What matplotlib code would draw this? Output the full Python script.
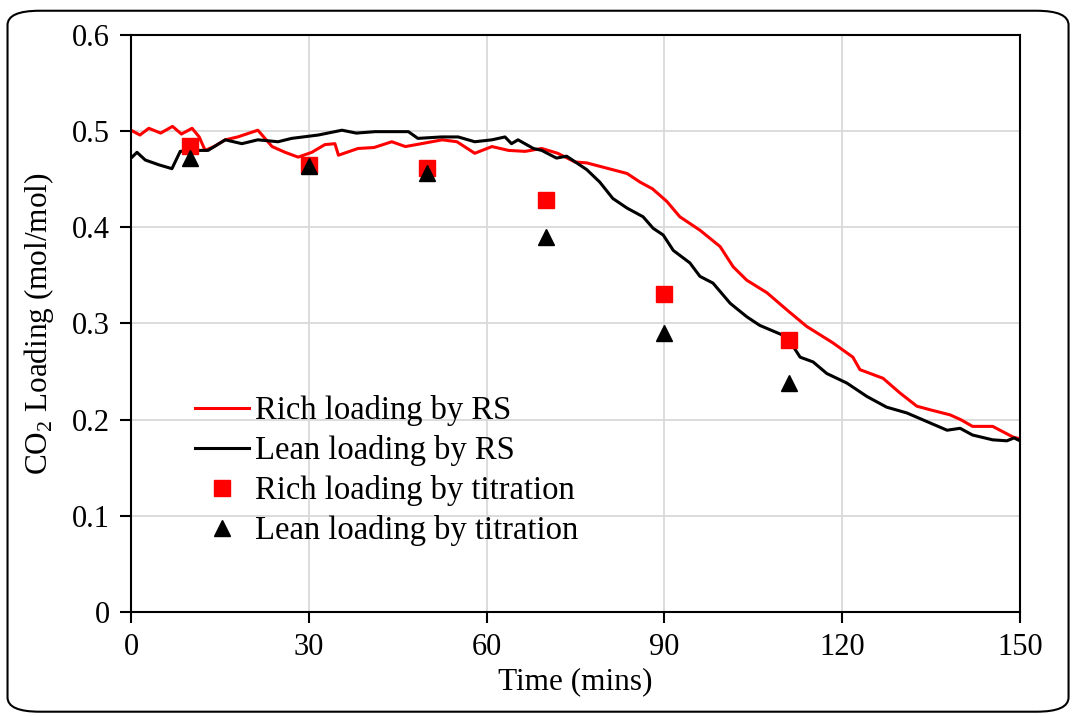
import matplotlib
matplotlib.use("Agg")
import matplotlib.pyplot as plt
from matplotlib.patches import FancyBboxPatch

plt.rcParams['font.family'] = ['Liberation Serif', 'DejaVu Serif']
plt.rcParams['mathtext.fontset'] = 'custom'
plt.rcParams['mathtext.rm'] = 'Liberation Serif'

# Rich loading by RS (red line)
rich_t = [0, 1.5, 3, 5, 7, 8.5, 10.3, 11.5, 12.5, 14, 15.9, 18, 21.4, 23.8, 26, 28.2,
          30.5, 32.7, 34.4, 35, 38.3, 41, 44, 46.3, 49, 52.5, 55, 58, 60.9, 63.7,
          66.5, 69.3, 72, 74.9, 76.9, 80, 83.7, 85.9, 88, 90.4, 92.6, 96, 99.4,
          101.6, 103.9, 107.3, 110.7, 114, 118.4, 121.8, 123, 126.9, 129.7,
          132.6, 135, 138.2, 140, 142, 145.4, 148.8, 150]
rich_rs = [0.501, 0.496, 0.503, 0.498, 0.505, 0.497, 0.503, 0.494, 0.480, 0.484, 0.491,
           0.494, 0.501, 0.484, 0.478, 0.473, 0.478, 0.486, 0.487, 0.475, 0.482,
           0.483, 0.489, 0.484, 0.487, 0.491, 0.489, 0.477, 0.484, 0.480, 0.479,
           0.482, 0.477, 0.468, 0.467, 0.462, 0.456, 0.447, 0.440, 0.427, 0.411,
           0.397, 0.380, 0.359, 0.345, 0.332, 0.314, 0.297, 0.280, 0.265, 0.252,
           0.243, 0.228, 0.214, 0.210, 0.205, 0.200, 0.193, 0.193, 0.182, 0.180]

# Lean loading by RS (black line)
lean_t = [0, 1, 2.4, 4.7, 6.9, 8.3, 10, 13, 15.9, 18.7, 21.4, 24.8, 27.1, 31.6, 35.6,
          38, 41.2, 46.8, 48.4, 52.4, 55.2, 58, 60.9, 63.1, 64.2, 65.3, 67.9, 69.3,
          71.8, 73.5, 76.9, 79.1, 81.3, 83.7, 86.4, 88.1, 89.8, 91.5, 94.3, 96,
          98.2, 101.1, 103.9, 106.1, 110.7, 112.9, 115.1, 117.4, 120.8, 124.2,
          127.5, 130.9, 134.3, 137.7, 139.9, 142, 145.4, 147.8, 149, 150]
lean_rs = [0.472, 0.478, 0.470, 0.465, 0.461, 0.479, 0.480, 0.480, 0.491, 0.487,
           0.491, 0.489, 0.4925, 0.496, 0.501, 0.498, 0.4995, 0.4995, 0.4925,
           0.494, 0.494, 0.489, 0.491, 0.494, 0.487, 0.491, 0.482, 0.480, 0.472,
           0.474, 0.460, 0.447, 0.430, 0.420, 0.411, 0.399, 0.392, 0.376, 0.363,
           0.349, 0.342, 0.321, 0.307, 0.298, 0.286, 0.265, 0.260, 0.248, 0.238,
           0.224, 0.213, 0.207, 0.198, 0.189, 0.191, 0.184, 0.179, 0.178, 0.181,
           0.178]

# titration points
tit_t = [10, 30, 50, 70, 90, 111]
rich_tit = [0.485, 0.465, 0.462, 0.428, 0.331, 0.283]
lean_tit = [0.472, 0.464, 0.456, 0.390, 0.290, 0.238]

fig = plt.figure(figsize=(10.75, 7.16), dpi=100)
ax = fig.add_axes([0.1219, 0.1453, 0.8269, 0.8058])

ax.plot(rich_t, rich_rs, color='#ff0000', lw=2.2, label='Rich loading by RS')
ax.plot(lean_t, lean_rs, color='black', lw=2.2, label='Lean loading by RS')
ax.plot(tit_t, rich_tit, 's', color='#ff0000', ms=11, ls='none',
        label='Rich loading by titration')
ax.plot(tit_t, lean_tit, '^', color='black', ms=11, ls='none',
        label='Lean loading by titration')

ax.set_xlim(0, 150)
ax.set_ylim(0, 0.6)
ax.set_xticks([0, 30, 60, 90, 120, 150])
ax.set_yticks([0, 0.1, 0.2, 0.3, 0.4, 0.5, 0.6])
ax.set_yticklabels(['0', '0.1', '0.2', '0.3', '0.4', '0.5', '0.6'])
ax.grid(True, color='#d9d9d9', lw=1.3)
ax.set_axisbelow(True)
for s in ax.spines.values():
    s.set_color('black')
    s.set_linewidth(1.5)
ax.tick_params(direction='out', length=8, width=1.5, labelsize=22, pad=7)

ax.set_xlabel('Time (mins)', fontsize=22.5, labelpad=4)
ax.set_ylabel(r'CO$_2$ Loading (mol/mol)', fontsize=22.5, labelpad=12)

leg = ax.legend(loc='upper left', bbox_to_anchor=(0.072, 0.376), frameon=False,
                fontsize=23.5, handlelength=1.65, handletextpad=0.2,
                labelspacing=0.28, borderaxespad=0, borderpad=0)

# rounded outer border
border = FancyBboxPatch((0.007, 0.006), 0.987, 0.979,
                        boxstyle='round,pad=0,rounding_size=0.03',
                        transform=fig.transFigure, fill=False,
                        edgecolor='black', lw=1.5, mutation_aspect=716 / 1075)
fig.patches.append(border)

fig.savefig('out.png', dpi=100)
